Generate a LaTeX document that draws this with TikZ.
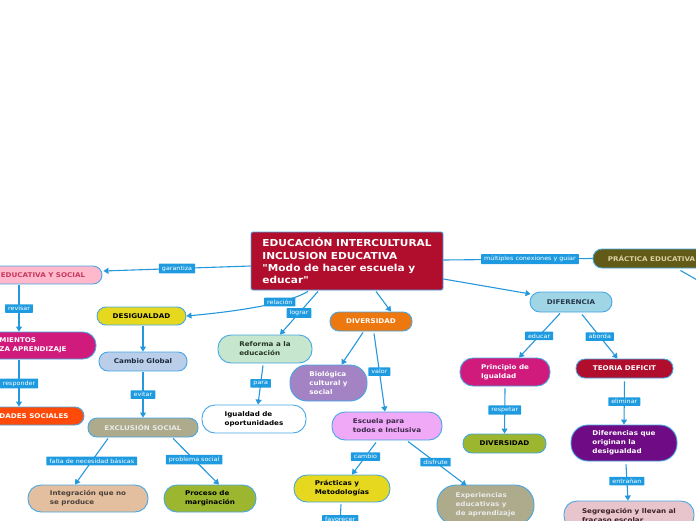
\documentclass[tikz,border=0pt]{standalone}
\usepackage{fontspec}
\setmainfont{DejaVu Sans}[FakeStretch=1.1, Ligatures=TeXOff]
\usetikzlibrary{arrows.meta,calc}
\definecolor{bordc}{HTML}{45A7E4}
\definecolor{linec}{HTML}{2597DC}
\definecolor{lblc}{HTML}{1E9BE0}
\definecolor{cenc}{HTML}{B10E2D}
\definecolor{educ}{HTML}{FFB8CC}
\definecolor{edut}{HTML}{C4395E}
\definecolor{magc}{HTML}{D01A7C}
\definecolor{dadc}{HTML}{FF4A0A}
\definecolor{yelc}{HTML}{E5D81F}
\definecolor{cambc}{HTML}{BACDE9}
\definecolor{cambt}{HTML}{1A2A3A}
\definecolor{khac}{HTML}{ADAB8C}
\definecolor{khat}{HTML}{EAEAEA}
\definecolor{integc}{HTML}{E3BFA0}
\definecolor{integt}{HTML}{4B4038}
\definecolor{olivc}{HTML}{9DB62F}
\definecolor{refc}{HTML}{C6E6CD}
\definecolor{reft}{HTML}{253525}
\definecolor{orac}{HTML}{EE7810}
\definecolor{purc}{HTML}{A383C3}
\definecolor{viol}{HTML}{F0A9F7}
\definecolor{violt}{HTML}{3B2A48}
\definecolor{pracc}{HTML}{625B17}
\definecolor{pract}{HTML}{D9D2A3}
\definecolor{difc}{HTML}{A0D5E5}
\definecolor{dift}{HTML}{24364A}
\definecolor{deepp}{HTML}{6F0B84}
\definecolor{segc}{HTML}{E8C5CD}
\definecolor{segt}{HTML}{3A2025}
\tikzset{
  pill/.style={draw=bordc, line width=0.9pt, inner sep=2pt, font=\bfseries\fontsize{6.5}{9}\selectfont},
  conn/.style={draw=linec, line width=1.1pt, -{Triangle[length=5pt,width=6pt]}},
  plainconn/.style={draw=linec, line width=1.1pt},
  lbl/.style={fill=lblc, text=white, font=\fontsize{5.8}{7}\selectfont, inner xsep=3pt, inner ysep=2pt, rounded corners=0.5pt}
}
\begin{document}
\begin{tikzpicture}[x=1pt,y=-1pt]
\useasboundingbox (0,0) rectangle (696,520);
\clip (0,0) rectangle (696,520);

% nodes
\node[pill, fill=cenc, text=white, font=\bfseries\fontsize{9.6}{12.4}\selectfont, minimum width=192pt, minimum height=58pt, rounded corners=2pt, align=left] (cen) at (347,261) {EDUCACIÓN INTERCULTURAL\\INCLUSION EDUCATIVA\\"Modo de hacer escuela y\\educar"};
\node[pill, fill=educ, text=edut, minimum width=118pt, minimum height=18pt, rounded corners=9pt] (edu) at (43,275) {EDUCATIVA Y SOCIAL};
\node[pill, fill=magc, text=white, minimum width=126pt, minimum height=27pt, rounded corners=13pt, align=left] (mien) at (33,345.5) {MIENTOS\\ZA APRENDIZAJE};
\node[pill, fill=dadc, text=white, minimum width=100pt, minimum height=18pt, rounded corners=9pt] (dades) at (34,416) {DADES SOCIALES};
\node[pill, fill=yelc, text=black, minimum width=89pt, minimum height=18pt, rounded corners=9pt] (desig) at (141.5,316) {DESIGUALDAD};
\node[pill, fill=cambc, text=cambt, minimum width=88pt, minimum height=19pt, rounded corners=9pt] (cambio) at (143,361.5) {Cambio Global};
\node[pill, fill=khac, text=khat, minimum width=110pt, minimum height=19pt, rounded corners=9pt] (excl) at (143,427.5) {EXCLUSIÓN SOCIAL};
\node[pill, fill=integc, text=integt, minimum width=120pt, minimum height=27pt, rounded corners=13pt, align=left] (integ) at (88,498.5) {Integración que no\\se produce};
\node[pill, fill=olivc, text=black, minimum width=92pt, minimum height=27pt, rounded corners=13pt, align=left] (proc) at (210,498.5) {Proceso de\\marginación};
\node[pill, fill=refc, text=reft, minimum width=94pt, minimum height=28pt, rounded corners=13pt, align=left] (refor) at (265,349) {Reforma a la\\educación};
\node[pill, fill=white, text=black, minimum width=104pt, minimum height=28pt, rounded corners=13pt, align=left] (igual) at (254,419) {Igualdad de\\oportunidades};
\node[pill, fill=orac, text=white, minimum width=82pt, minimum height=19pt, rounded corners=9pt] (divo) at (371,321.5) {DIVERSIDAD};
\node[pill, fill=purc, text=white, minimum width=77pt, minimum height=36pt, rounded corners=17pt, align=left] (bio) at (328.5,383) {Biológica\\cultural y\\social};
\node[pill, fill=viol, text=violt, minimum width=110pt, minimum height=28pt, rounded corners=13pt, align=left] (escu) at (387,426) {Escuela para\\todos e Inclusiva};
\node[pill, fill=yelc, text=black, minimum width=96pt, minimum height=27pt, rounded corners=13pt, align=left] (prac) at (342,488.5) {Prácticas y\\Metodologías};
\node[pill, fill=khac, text=khat, minimum width=97pt, minimum height=40pt, rounded corners=19pt, align=left] (expe) at (485.5,505) {Experiencias\\educativas y\\de aprendizaje};
\node[pill, fill=pracc, text=pract, minimum width=117pt, minimum height=19pt, rounded corners=9pt] (pract) at (651.5,258.5) {PRÁCTICA EDUCATIVA};
\node[pill, fill=difc, text=dift, minimum width=82pt, minimum height=20pt, rounded corners=10pt] (dife) at (571,302) {DIFERENCIA};
\node[pill, fill=magc, text=white, minimum width=90pt, minimum height=28pt, rounded corners=13pt, align=left] (prin) at (505,372) {Principio de\\Igualdad};
\node[pill, fill=cenc, text=white, minimum width=97pt, minimum height=19pt, rounded corners=9pt] (teor) at (624.5,368.5) {TEORIA DEFICIT};
\node[pill, fill=olivc, text=black, minimum width=83pt, minimum height=19pt, rounded corners=9pt] (divg) at (504.5,443.5) {DIVERSIDAD};
\node[pill, fill=deepp, text=white, minimum width=106pt, minimum height=36pt, rounded corners=17pt, align=left] (difs) at (624,443) {Diferencias que\\originan la\\desigualdad};
\node[pill, fill=segc, text=segt, minimum width=130pt, minimum height=28pt, rounded corners=13pt, align=left] (segr) at (629,515) {Segregación y llevan al\\fracaso escolar};

\coordinate (offr) at (720,293);
\coordinate (offb) at (339,545);

% connectors
\draw[conn] ($(cen.west)+(0,5)$) -- node[lbl,pos=0.5]{garantiza} ($(edu.east)+(1,-4)$);
\draw[conn] ($(cen.south)+(-39,1)$) .. controls (285,305) and (230,312) .. node[lbl,pos=0.3]{relación} (desig.east);
\draw[conn] ($(cen.south)+(-29,1)$) -- node[lbl,pos=0.5]{lograr} ($(refor.north)+(15,0)$);
\draw[conn] ($(cen.south)+(29,1)$) -- ($(divo.north)+(20,0)$);
\draw[plainconn] ($(cen.east)+(0,-1)$) -- node[lbl,pos=0.58]{múltiples conexiones y guiar} (pract.west);
\draw[conn] ($(cen.east)+(0,18)$) -- ($(dife.west)+(1,-8)$);
\draw[plainconn] ($(pract.south east)+(-30,2)$) -- (offr);
\draw[conn] ($(edu.south)+(-24,1)$) -- node[lbl,pos=0.5]{revisar} ($(mien.north)+(-14,0)$);
\draw[conn] ($(mien.south)+(-14,1)$) -- node[lbl,pos=0.5]{responder} ($(dades.north)+(-15,0)$);
\draw[conn] ($(desig.south)+(1.5,1)$) -- (cambio.north);
\draw[conn] ($(cambio.south)+(0,1)$) -- node[lbl,pos=0.49]{evitar} (excl.north);
\draw[conn] ($(excl.south)+(-35,1)$) -- node[lbl,pos=0.49]{falta de necesidad básicas} ($(integ.north)+(-13,0)$);
\draw[conn] ($(excl.south)+(30,1)$) -- node[lbl,pos=0.46]{problema social} ($(proc.north)+(9,0)$);
\draw[conn] ($(refor.south)+(-2,2)$) -- node[lbl,pos=0.46]{para} ($(igual.north)+(4,0)$);
\draw[conn] ($(divo.south)+(-8,1)$) -- ($(bio.north)+(13,0)$);
\draw[conn] ($(divo.south)+(3,2)$) -- node[lbl,pos=0.49]{valor} ($(escu.north)+(-2,0)$);
\draw[conn] ($(escu.south)+(-11,2)$) -- node[lbl,pos=0.44]{cambio} ($(prac.north)+(10,0)$);
\draw[conn] ($(escu.south)+(21,1)$) -- node[lbl,pos=0.47]{disfrute} ($(expe.north)+(-19,1)$);
\draw[conn] ($(prac.south)+(-1,2)$) -- node[lbl,pos=0.37]{favorecer} (offb);
\draw[conn] ($(dife.south)+(-11,1)$) -- node[lbl,pos=0.51]{educar} ($(prin.north)+(14,0)$);
\draw[conn] ($(dife.south)+(11,2)$) -- node[lbl,pos=0.5]{aborda} ($(teor.north)+(-7,0)$);
\draw[conn] ($(prin.south)+(0,2)$) -- node[lbl,pos=0.48]{respetar} (divg.north);
\draw[conn] ($(teor.south)+(0,3)$) -- node[lbl,pos=0.47]{eliminar} (difs.north);
\draw[conn] ($(difs.south)+(2,3)$) -- node[lbl,pos=0.46]{entrañan} ($(segr.north)+(-1,0)$);
\end{tikzpicture}
\end{document}
